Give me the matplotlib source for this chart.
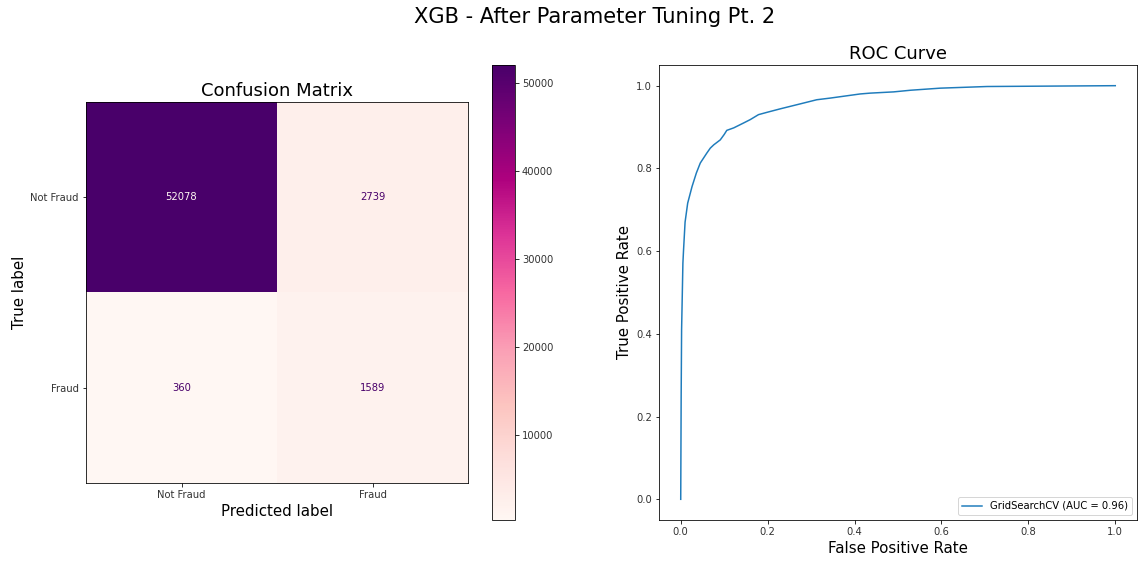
import numpy as np
import matplotlib
matplotlib.use("Agg")
import matplotlib.pyplot as plt

# ---- data ----
class_labels = ["Not Fraud", "Fraud"]
cm_values = [[52078, 2739],
             [360, 1589]]

fpr = [0.0, 0.001, 0.002, 0.0035, 0.005, 0.0065, 0.010, 0.016, 0.026, 0.036,
       0.045, 0.060, 0.068, 0.076, 0.091, 0.100, 0.106, 0.122, 0.145, 0.160,
       0.179, 0.200, 0.229, 0.275, 0.313, 0.344, 0.413, 0.436, 0.490, 0.529,
       0.597, 0.705, 1.0]
tpr = [0.0, 0.248, 0.41, 0.49, 0.571, 0.603, 0.670, 0.716, 0.756, 0.789,
       0.813, 0.837, 0.849, 0.857, 0.869, 0.882, 0.892, 0.898, 0.910, 0.918,
       0.930, 0.936, 0.944, 0.956, 0.966, 0.970, 0.980, 0.982, 0.985, 0.989,
       0.994, 0.998, 1.0]
roc_label = "GridSearchCV (AUC = 0.96)"

W, H = 1144, 566
fig = plt.figure(figsize=(W / 72, H / 72), dpi=72)

def px_axes(l, t, r, b):
    return fig.add_axes([l / W, 1 - b / H, (r - l) / W, (b - t) / H])

fig.suptitle("XGB - After Parameter Tuning Pt. 2", fontsize=21,
             x=595 / W, y=1 - 22.7 / H, va="baseline", ha="center")

# ---- confusion matrix ----
ax1 = px_axes(86, 102, 468, 483)
cax = px_axes(492, 65, 515, 520)
cmap = plt.get_cmap("RdPu")
cm = np.array(cm_values)
im = ax1.imshow(cm, cmap=cmap, interpolation="nearest", aspect="auto")
thresh = (cm.max() + cm.min()) / 2.0
for i in range(cm.shape[0]):
    for j in range(cm.shape[1]):
        color = cmap(0.0) if cm[i, j] > thresh else cmap(1.0)
        ax1.text(j, i, f"{cm[i, j]}", ha="center", va="center", color=color, fontsize=10)
ax1.set_xticks(range(len(class_labels)))
ax1.set_xticklabels(class_labels)
ax1.set_yticks(range(len(class_labels)))
ax1.set_yticklabels(class_labels)
ax1.set_xlim(-0.5, 1.5)
ax1.set_ylim(1.5, -0.5)
ax1.set_xlabel("Predicted label", fontsize=15)
ax1.set_ylabel("True label", fontsize=15)
ax1.set_title("Confusion Matrix", fontsize=18)
fig.colorbar(im, cax=cax)

# ---- ROC ----
ax2 = px_axes(659, 65, 1137, 520)
ax2.plot(fpr, tpr, color="#1f7cbc", lw=1.5, label=roc_label)
ax2.set_xlim(-0.05, 1.05)
ax2.set_ylim(-0.05, 1.05)
ax2.set_xlabel("False Positive Rate", fontsize=15)
ax2.set_ylabel("True Positive Rate", fontsize=15)
ax2.set_title("ROC Curve", fontsize=18)
ax2.legend(loc="lower right", fontsize=10)

for ax in (ax1, ax2, cax):
    ax.tick_params(labelcolor="#333333")

fig.savefig("out.png", dpi=72)
